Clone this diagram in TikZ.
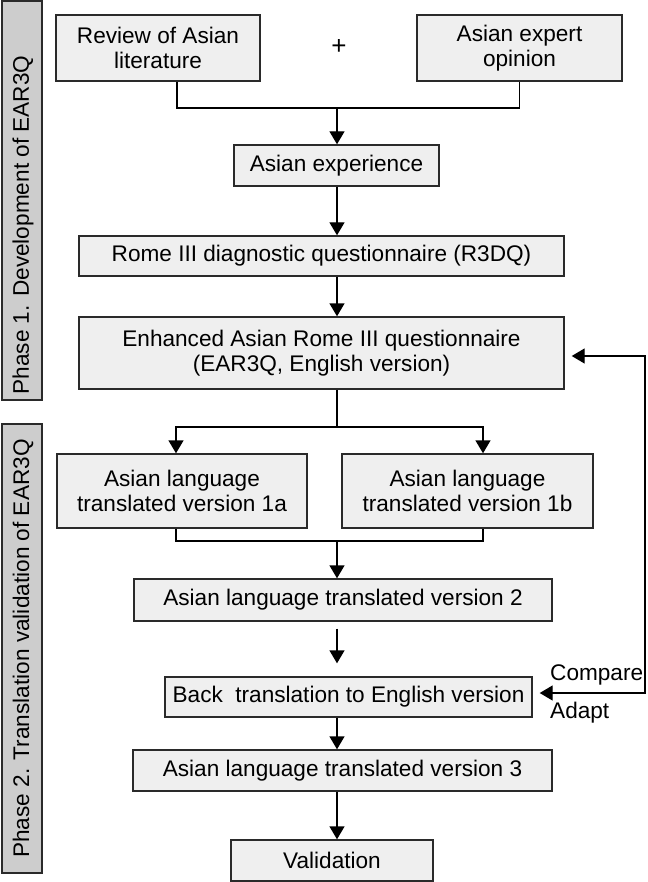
\documentclass[tikz,border=0pt]{standalone}
\usepackage{fontspec}
\setmainfont{Liberation Sans}
\usetikzlibrary{arrows.meta}

\definecolor{boxfill}{HTML}{EFEFEF}
\definecolor{phasefill}{HTML}{CDCDCD}
\definecolor{linegray}{HTML}{2A2A2A}

\begin{document}
\begin{tikzpicture}[x=1pt, y=-1pt,
    every node/.style={font=\fontsize{22.6}{25}\selectfont, inner sep=0pt},
    box/.style={draw=linegray, line width=1.4pt, fill=boxfill, align=center},
    phase/.style={draw=linegray, line width=1.4pt, fill=phasefill, minimum width=40pt},
    flow/.style={line width=1.4pt, draw=black, -{Triangle[width=15pt,length=13pt]}},
    link/.style={line width=1.4pt, draw=black}]
    \useasboundingbox (0,0) rectangle (647,882);

    % phase bars
    \node[phase, minimum height=399pt] (ph1) at (22,200.5) {};
    \node[phase, minimum height=449pt] (ph2) at (22,648.5) {};
    \node[rotate=90] (ph1txt) at (23,225) {Phase 1. Development of EAR3Q};
    \node[rotate=90] (ph2txt) at (23,648.5) {Phase 2. Translation validation of EAR3Q};

    % phase 1
    \node[box, minimum width=204pt, minimum height=66pt] (lit) at (158,48) {Review of Asian\\literature};
    \node[box, minimum width=205pt, minimum height=66pt] (expert) at (519.5,48) {Asian expert\\opinion};
    \node[font=\fontsize{26}{26}\selectfont] (plus) at (339,47) {+};
    \node[box, minimum width=205pt, minimum height=41pt] (aexp) at (336.5,165.5) {Asian experience};
    \node[box, minimum width=485pt, minimum height=40pt] (rome) at (321.5,256) {Rome III diagnostic questionnaire (R3DQ)};
    \node[box, minimum width=485pt, minimum height=72pt] (enh) at (321.5,353) {Enhanced Asian Rome III questionnaire\\(EAR3Q, English version)};

    % phase 2
    \node[box, minimum width=250pt, minimum height=74pt] (v1a) at (182,491) {Asian language\\translated version 1a};
    \node[box, minimum width=251pt, minimum height=74pt] (v1b) at (467.5,491) {Asian language\\translated version 1b};
    \node[box, minimum width=418pt, minimum height=42pt] (v2) at (343,600) {Asian language translated version 2};
    \node[box, minimum width=367pt, minimum height=40pt] (back) at (348.5,697) {Back\ \ translation to English version};
    \node[box, minimum width=419pt, minimum height=41pt] (v3) at (342.5,770.5) {Asian language translated version 3};
    \node[box, minimum width=202pt, minimum height=41pt] (val) at (332,860.5) {Validation};

    \node[anchor=west] (cmp) at (550,675) {Compare};
    \node[anchor=west] (adp) at (550,713) {Adapt};

    % connectors
    \coordinate (col) at (337,0);
    \coordinate (join1) at (337,108);
    \coordinate (split) at (337,427);
    \coordinate (join2) at (337,541);
    \coordinate (lcol) at (176,0);
    \coordinate (rcol) at (483,0);

    \draw[link] (lit.south -| 177,0) |- (join1) -| (expert.south);
    \draw[flow] (join1) -- (aexp.north -| col);
    \draw[flow] (aexp.south -| col) -- (rome.north -| col);
    \draw[flow] (rome.south -| col) -- (enh.north -| col);
    \draw[link] (enh.south -| col) -- (split);
    \draw[flow] (split) -| (v1a.north -| lcol);
    \draw[flow] (split) -| (v1b.north -| rcol);
    \draw[link] (v1a.south -| lcol) |- (join2) -| (v1b.south -| rcol);
    \draw[flow] (join2) -- (v2.north -| col);
    \draw[flow, shorten <=7pt, shorten >=13pt] (v2.south -| col) -- (back.north -| col);
    \draw[flow] (back.south -| col) -- (v3.north -| col);
    \draw[flow] (v3.south -| col) -- (val.north -| col);

    % feedback loop
    \draw[flow, {Triangle[width=15pt,length=13pt]}-{Triangle[width=15pt,length=13pt]}]
        ([shift={(7,3)}]enh.east) -- (645,356) -- (645,693) -- ([shift={(7,-4)}]back.east);
\end{tikzpicture}
\end{document}
